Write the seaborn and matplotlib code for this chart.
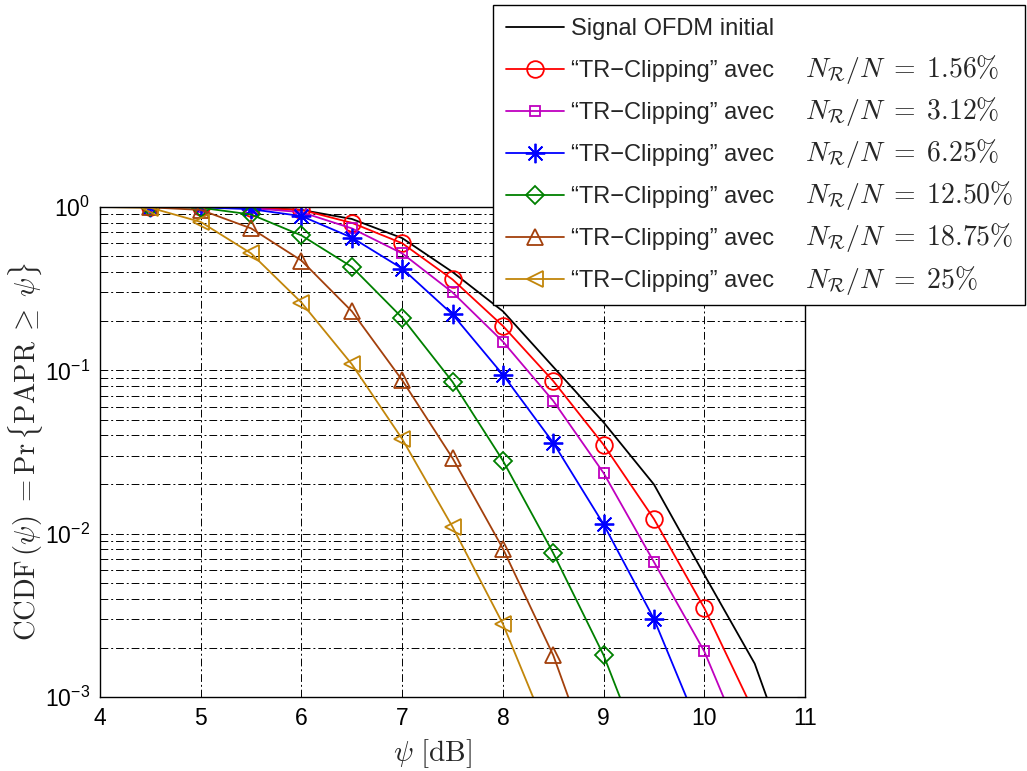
import numpy as np
import pandas as pd
import matplotlib
matplotlib.use("Agg")
import matplotlib.pyplot as plt
import seaborn as sns

# PAPR threshold (dB)
psi = [4.0, 4.5, 5.0, 5.5, 6.0, 6.5, 7.0, 7.5, 8.0, 8.5, 9.0, 9.5, 10.0, 10.5, 11.0]
nan = np.nan

# CCDF values (the point after 1e-3 only sets where the line leaves the axes)
ccdf_ofdm = [1, 1, 1, 0.995, 0.96, 0.845, 0.645, 0.40, 0.23, 0.105, 0.048, 0.020, 0.0056, 0.0016, 0.00022]
ccdf_156 = [1, 1, 1, 0.99, 0.96, 0.80, 0.60, 0.36, 0.187, 0.086, 0.035, 0.0123, 0.0035, 0.00079, nan]
ccdf_312 = [1, 1, 1, 0.985, 0.93, 0.74, 0.52, 0.30, 0.15, 0.065, 0.0235, 0.0067, 0.0019, 0.00035, nan]
ccdf_625 = [1, 1, 0.995, 0.97, 0.88, 0.65, 0.42, 0.22, 0.094, 0.036, 0.0114, 0.0030, 0.00054, nan, nan]
ccdf_1250 = [1, 1, 0.99, 0.90, 0.67, 0.43, 0.21, 0.085, 0.028, 0.0076, 0.0018, 0.00029, nan, nan, nan]
ccdf_1875 = [1, 0.995, 0.96, 0.74, 0.47, 0.23, 0.087, 0.029, 0.0081, 0.0018, 0.00025, nan, nan, nan, nan]
ccdf_25 = [1, 0.99, 0.81, 0.52, 0.26, 0.109, 0.038, 0.011, 0.0028, 0.0005, nan, nan, nan, nan, nan]

ratios = ["1.56", "3.12", "6.25", "12.50", "18.75", "25"]
clip_series = [ccdf_156, ccdf_312, ccdf_625, ccdf_1250, ccdf_1875, ccdf_25]
colors = ["#ff0000", "#bf00bf", "#0000ff", "#008000", "#a3400c", "#c2860a"]
markers = ["o", "s", (8, 2, 0), "D", "^", "<"]
msizes = [12, 7, 14, 9, 12, 12]

sns.set_style("white")
plt.rcParams["font.family"] = ["Liberation Sans", "DejaVu Sans"]
plt.rcParams["mathtext.fontset"] = "cm"

fig = plt.figure(figsize=(10.27, 7.71), dpi=100)
ax = fig.add_axes([0.0974, 0.0960, 0.6865, 0.6355])
ax.set_yscale("log")

sns.lineplot(x=psi, y=ccdf_ofdm, color="black", linewidth=1.3,
             label="Signal OFDM initial", ax=ax)

for vals, c, m, ms in zip(clip_series, colors, markers, msizes):
    df = pd.DataFrame({"psi": psi, "ccdf": vals}).dropna()
    sns.lineplot(data=df, x="psi", y="ccdf", color=c, linewidth=1.3,
                 marker=m, markersize=ms, markerfacecolor="none",
                 markeredgecolor=c, markeredgewidth=1.3,
                 markevery=slice(1, None),
                 label="\u201cTR\u2212Clipping\u201d avec", ax=ax)

ax.set_xlim(4, 11)
ax.set_ylim(1e-3, 1)
ax.set_xticks(range(4, 12))

# MATLAB-like dash-dot grid
grid_ls = (0, (8, 3, 2, 3))
ax.grid(True, which="major", axis="both", color="black", linestyle=grid_ls, linewidth=0.7)
ax.grid(True, which="minor", axis="y", color="black", linestyle=grid_ls, linewidth=0.7)
ax.set_axisbelow(True)

for s in ax.spines.values():
    s.set_color("black")
    s.set_linewidth(1.0)
ax.tick_params(which="both", direction="in", top=True, right=True, colors="black")
ax.tick_params(which="major", length=6, labelsize=16.5, pad=7)
ax.tick_params(which="minor", length=3)

ax.set_xlabel(r"$\psi\ [\mathrm{dB}]$", fontsize=21)
ax.xaxis.set_label_coords(0.472, -0.082)
ax.set_ylabel(r"$\mathrm{CCDF}\,(\psi)\ = \mathrm{Pr}\,\{\mathrm{PAPR}\;\geq\;\psi\}$",
              fontsize=20.5, labelpad=0)

leg = ax.legend(loc="upper left", bbox_to_anchor=(493 / 1027, 1 - 303 / 771, 532 / 1027, 298 / 771),
                bbox_transform=fig.transFigure, mode="expand", borderaxespad=0,
                fontsize=17, fancybox=False, framealpha=1, edgecolor="black",
                handlelength=2.45, handletextpad=0.3, labelspacing=0.85,
                borderpad=0.55, numpoints=1)
leg.get_frame().set_linewidth(1.0)
for line in leg.get_lines():
    line.set_markevery([1])

# the N_R/N part of each clipping entry, set in larger math type after the text
for txt, r in zip(leg.get_texts()[1:], ratios):
    ax.annotate(r"$N_{\mathcal{R}}/N\;=\;" + r + r"\%$", xy=(1, 0), xycoords=txt,
                xytext=(22.5, 3.5), textcoords="offset points", va="baseline",
                fontsize=20, annotation_clip=False, zorder=6)

fig.canvas.draw()
fig.savefig("out.png", dpi=100)
